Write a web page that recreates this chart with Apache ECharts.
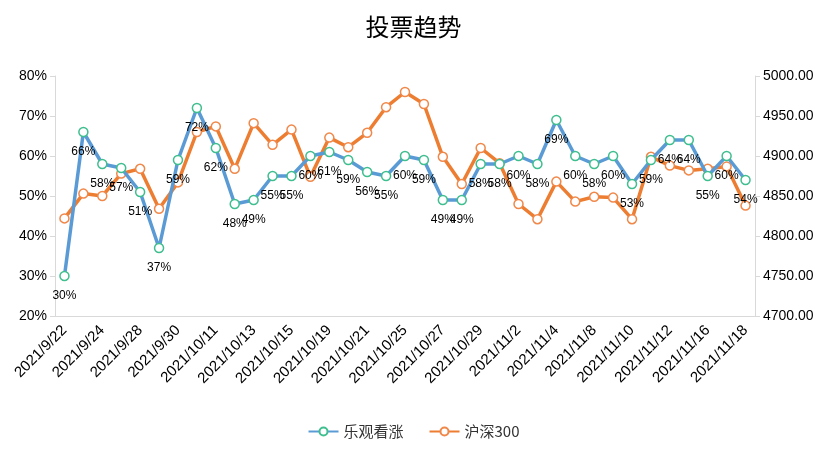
<!DOCTYPE html>
<html>
<head>
<meta charset="utf-8">
<script src="https://cdn.jsdelivr.net/npm/echarts@6/dist/echarts.min.js"></script>
<style>html,body{margin:0;padding:0;background:#fff}#c{width:827px;height:473px}</style>
</head>
<body>
<div id="c"></div>
<script>
const categories = ["2021/9/22","2021/9/23","2021/9/24","2021/9/27","2021/9/28","2021/9/29","2021/9/30","2021/10/8","2021/10/11","2021/10/12","2021/10/13","2021/10/14","2021/10/15","2021/10/18","2021/10/19","2021/10/20","2021/10/21","2021/10/22","2021/10/25","2021/10/26","2021/10/27","2021/10/28","2021/10/29","2021/11/1","2021/11/2","2021/11/3","2021/11/4","2021/11/5","2021/11/8","2021/11/9","2021/11/10","2021/11/11","2021/11/12","2021/11/15","2021/11/16","2021/11/17","2021/11/18"];
const bullish = [30,66,58,57,51,37,59,72,62,48,49,55,55,60,61,59,56,55,60,59,49,49,58,58,60,58,69,60,58,60,53,59,64,64,55,60,54];
const hs300 = [4822,4853,4850,4878,4884,4834,4867,4930,4937,4884,4941,4914,4933,4874,4923,4911,4929,4961,4980,4965,4899,4865,4910,4891,4840,4821,4868,4843,4849,4848,4821,4899,4888,4882,4884,4887,4838];
const leftTicks = {min:20, max:80, interval:10};
const rightTicks = {min:4700, max:5000, interval:50};

const chart = echarts.init(document.getElementById('c'));
const axisFont = 'Liberation Sans, Arial, sans-serif';
chart.setOption({
  animation:false,
  title:{text:'投票趋势', left:'center', top:10, textStyle:{fontFamily:'Noto Sans CJK SC', fontSize:24, fontWeight:'normal', color:'#000'}},
  legend:{bottom:29, left:'center', itemWidth:30, itemHeight:10, itemGap:25,
    textStyle:{fontFamily:'Noto Sans CJK SC', fontSize:15, color:'#333'},
    data:['乐观看涨','沪深300']},
  grid:{left:55, right:72, top:76, bottom:157},
  xAxis:{type:'category', data:categories, boundaryGap:true,
    axisLine:{lineStyle:{color:'#D9D9D9'}}, axisTick:{show:false},
    axisLabel:{interval:1, rotate:45, color:'#000', fontSize:15, fontFamily:axisFont, margin:12}},
  yAxis:[
    {type:'value', min:leftTicks.min, max:leftTicks.max, interval:leftTicks.interval, splitLine:{show:false},
      axisLine:{show:true, lineStyle:{color:'#D9D9D9'}}, axisTick:{show:true, length:5, lineStyle:{color:'#D9D9D9'}},
      axisLabel:{formatter:v=>v+'%', color:'#000', fontSize:14, fontFamily:axisFont, margin:8}},
    {type:'value', min:rightTicks.min, max:rightTicks.max, interval:rightTicks.interval, splitLine:{show:false},
      axisLine:{show:true, lineStyle:{color:'#D9D9D9'}}, axisTick:{show:true, length:5, lineStyle:{color:'#D9D9D9'}},
      axisLabel:{formatter:v=>v.toFixed(2), color:'#000', fontSize:14, fontFamily:axisFont, margin:8}}
  ],
  series:[
    {name:'乐观看涨', type:'line', yAxisIndex:0, data:bullish, symbol:'circle', symbolSize:9,
      lineStyle:{color:'#5B9BD5', width:3.5}, itemStyle:{color:'#fff', borderColor:'#3FBF8F', borderWidth:1.5},
      label:{show:true, position:'bottom', distance:8, formatter:p=>p.value+'%', color:'#000', fontSize:12, fontFamily:axisFont},
      z:3},
    {name:'沪深300', type:'line', yAxisIndex:1, data:hs300, symbol:'circle', symbolSize:9,
      lineStyle:{color:'#ED7D31', width:3.5}, itemStyle:{color:'#fff', borderColor:'#F0884A', borderWidth:1.5},
      z:2}
  ]
});
</script>
</body>
</html>
